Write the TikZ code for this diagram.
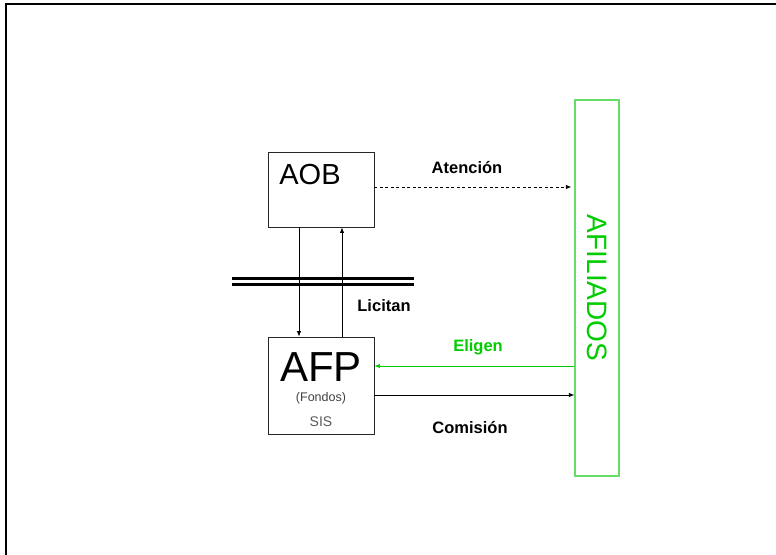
\documentclass[tikz,border=0pt]{standalone}
\usepackage{fontspec}
\setmainfont{Liberation Sans}
\usetikzlibrary{arrows.meta}
\definecolor{boxgreen}{HTML}{66DD66}
\definecolor{txtgreen}{HTML}{00CC00}
\begin{document}
\begin{tikzpicture}[x=1pt,y=-1pt,
  boxstyle/.style={draw=black!85,line width=0.9pt,minimum width=106pt,inner sep=0pt},
  lbl/.style={font=\bfseries\fontsize{16.5}{18}\selectfont,inner sep=0pt},
  arr/.style={-{Latex[length=5.5pt,width=4.5pt]},line width=0.8pt}]
\useasboundingbox (0,0) rectangle (776,554);
% frame
\draw[line width=2pt] (6,556) -- (6,4) -- (776,4);
% boxes
\node[boxstyle,minimum height=75pt] (aob) at (321,189.5) {};
\node[boxstyle,minimum height=97pt] (afp) at (321,385.5) {};
\node[draw=boxgreen,line width=1.3pt,minimum width=44pt,minimum height=376pt,inner sep=0pt] (afil) at (597,288) {};
% box texts
\node[inner sep=0pt,font=\fontsize{29}{31}\selectfont] (aobt) at (310,175) {AOB};
\node[inner sep=0pt,font=\fontsize{42}{44}\selectfont] (afpt) at (321,367) {AFP};
\node[inner sep=0pt,text=black!75,font=\fontsize{12.5}{14}\selectfont] (fondos) at (321,398) {(Fondos)};
\node[inner sep=0pt,text=black!65,font=\fontsize{14}{16}\selectfont] (sis) at (321,422) {SIS};
\node[inner sep=0pt,text=txtgreen,rotate=-90,font=\fontsize{28}{30}\selectfont] (afilt) at (597,288) {AFILIADOS};
% connectors
\draw[arr,dashed,dash pattern=on 3pt off 2.5pt] ([yshift=2.5pt]aob.east) -- ([yshift=2.5pt,xshift=-3pt]aob.east -| afil.west);
\draw[arr] ([xshift=-22pt]aob.south) -- ([xshift=-22pt]afp.north);
\draw[arr] ([xshift=21pt]afp.north) -- ([xshift=21pt]aob.south);
\draw[arr,color=txtgreen] ([yshift=19.5pt]afp.east -| afil.west) -- ([yshift=19.5pt]afp.east);
\draw[arr] ([yshift=-9.5pt]afp.east) -- ([yshift=-9.5pt]afp.east -| afil.west);
% double bar
\draw[line width=2.5pt] (232,278.5) -- (414,278.5);
\draw[line width=2.5pt] (232,284.5) -- (414,284.5);
% labels
\node[lbl] (aten) at (467,168) {Atención};
\node[lbl] (lic) at (384,306) {Licitan};
\node[lbl,text=txtgreen] (eli) at (478,347) {Eligen};
\node[lbl] (com) at (470,428) {Comisión};
\end{tikzpicture}
\end{document}
